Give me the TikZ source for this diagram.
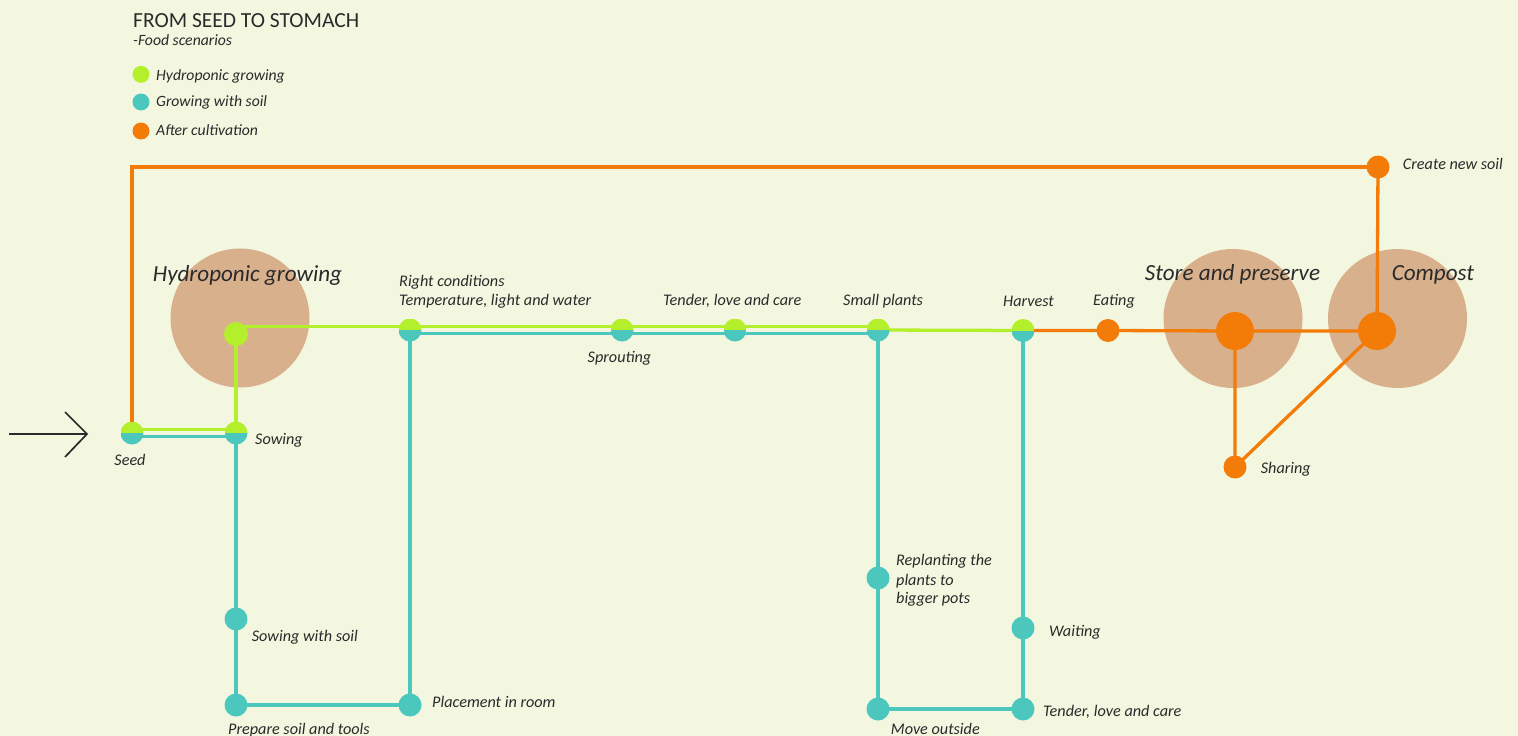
\documentclass[tikz,border=0pt]{standalone}
\usepackage{fontspec}
\setmainfont{Carlito}
\usetikzlibrary{calc}
\definecolor{cbg}{HTML}{F3F7E0}
\definecolor{cgreen}{HTML}{B3EF2A}
\definecolor{cteal}{HTML}{4BC7BE}
\definecolor{corange}{HTML}{F27C07}
\definecolor{ccirc}{HTML}{D9B08C}
\definecolor{ctext}{HTML}{2A2A2A}
\pgfdeclarelayer{bg}
\pgfdeclarelayer{lines}
\pgfsetlayers{bg,lines,main}
\begin{document}
\begin{tikzpicture}[x=1pt,y=-1pt,
  pt/.style={circle,inner sep=0pt,minimum size=23pt},
  gdot/.style={pt,fill=cgreen},
  tdot/.style={pt,fill=cteal},
  odot/.style={pt,fill=corange},
  bigo/.style={circle,inner sep=0pt,minimum size=38pt,fill=corange},
  ldot/.style={circle,inner sep=0pt,minimum size=17pt},
  split/.style={pt,path picture={
     \fill[cteal] (path picture bounding box.south west) rectangle (path picture bounding box.east);
     \fill[cgreen] (path picture bounding box.west) rectangle (path picture bounding box.north east);}},
  blob/.style={circle,inner sep=0pt,minimum size=139pt,fill=ccirc},
  lab/.style={font=\itshape\fontsize{16.2}{19}\selectfont,text=ctext,inner sep=0pt,anchor=base west},
  labc/.style={lab,anchor=base},
  leg/.style={lab,font=\itshape\fontsize{15.7}{18}\selectfont},
  big/.style={font=\itshape\fontsize{23.1}{27}\selectfont,text=ctext,inner sep=0pt,anchor=base},
  gl/.style={draw=cgreen,line width=3.3pt},
  tl/.style={draw=cteal,line width=3.3pt},
  ol/.style={draw=corange,line width=3.3pt},
]
\useasboundingbox (0,0) rectangle (1518,736);
\begin{pgfonlayer}{bg}
  \fill[cbg] (0,0) rectangle (1518,736);
  \node[blob] (chyd) at (240,318) {};
  \node[blob] (csto) at (1233,318.5) {};
  \node[blob] (ccom) at (1397.5,318.5) {};
\end{pgfonlayer}

% title and legend
\node[font=\fontsize{21.5}{25}\selectfont,text=ctext,inner sep=0pt,anchor=base west] (title) at (133,27.3) {FROM SEED TO STOMACH};
\node[leg] (sub) at (133,45.7) {-Food scenarios};
\node[ldot,fill=cgreen] (lg1) at (141,74.3) {};
\node[ldot,fill=cteal] (lg2) at (141,102) {};
\node[ldot,fill=corange] (lg3) at (141,131) {};
\node[leg] (lt1) at (156,80) {Hydroponic growing};
\node[leg] (lt2) at (156,106.7) {Growing with soil};
\node[leg] (lt3) at (156,135) {After cultivation};

% entry arrow
\coordinate (a0) at (9,434);
\coordinate (a1) at (87,434);
\coordinate (a2) at (65,412);
\coordinate (a3) at (65,457);
\draw[line width=1.7pt,ctext] (a0) -- (a1);
\draw[line width=1.7pt,ctext] (a2) -- (a1) -- (a3);

% station nodes
\node[split] (seed) at (132,433) {};
\node[split] (sow) at (236,433) {};
\node[gdot,minimum size=24pt] (hyd) at (236,334) {};
\node[split] (rc) at (410,330) {};
\node[split] (spr) at (622,330) {};
\node[split] (ten) at (735,330) {};
\node[split] (sp) at (878,330) {};
\node[split] (har) at (1023,330.5) {};
\node[odot] (eat) at (1108,330.5) {};
\node[bigo] (sto) at (1235,331) {};
\node[bigo] (com) at (1377,331) {};
\node[odot] (cns) at (1378,167) {};
\node[odot] (sha) at (1235,467) {};
\node[tdot] (sws) at (236,619) {};
\node[tdot] (pst) at (236,705) {};
\node[tdot] (pir) at (410,705) {};
\node[tdot] (rep) at (878,578) {};
\node[tdot] (mov) at (878,709) {};
\node[tdot] (tlc) at (1023,709) {};
\node[tdot] (wai) at (1023,628) {};

% connectors
\begin{pgfonlayer}{lines}
  \coordinate (gA) at ($(rc.center)+(0,-3.5)$);
  \draw[gl] ($(seed.center)+(0,-3.5)$) -- ($(sow.center)+(0,-3.5)$) -- (hyd.center |- gA) -- (gA) -- ($(sp.center)+(0,-3.5)$);
  \draw[gl] (sp.center) -- (har.center);
  \draw[tl] ($(seed.center)+(0,3.5)$) -- ($(sow.center)+(0,3.5)$);
  \draw[tl] (sow.center) -- (sws.center) -- (pst.center) -- (pir.center) -- (rc.center);
  \draw[tl] ($(rc.center)+(0,3.5)$) -- ($(sp.center)+(0,3.5)$);
  \draw[tl] (sp.center) -- (rep.center) -- (mov.center) -- (tlc.center) -- (wai.center) -- (har.center);
  \draw[ol] (seed.center) -- (seed.center |- cns.center) -- (cns.center);
  \draw[ol] (har.center) -- (eat.center) -- (sto.center) -- (com.center) -- (cns.center);
  \draw[ol] (sto.center) -- (sha.center) -- (com.center);
\end{pgfonlayer}

% labels
\node[big] (tHyd) at (247.5,281) {Hydroponic growing};
\node[big] (tSto) at (1232.5,280.7) {Store and preserve};
\node[big] (tCom) at (1433,280.7) {Compost};
\node[labc] (lSeed) at (130,465.7) {Seed};
\node[lab] (lSow) at (255,444) {Sowing};
\node[lab] (lRc1) at (399,286) {Right conditions};
\node[lab] (lRc2) at (399,305.7) {Temperature, light and water};
\node[labc] (lSpr) at (619.5,362) {Sprouting};
\node[lab] (lTen) at (663,305) {Tender, love and care};
\node[lab] (lSp) at (843,305.7) {Small plants};
\node[lab] (lHar) at (1003,306.5) {Harvest};
\node[lab] (lEat) at (1093,305.7) {Eating};
\node[lab] (lCns) at (1402.7,169.3) {Create new soil};
\node[lab] (lSha) at (1260.7,473.3) {Sharing};
\node[lab] (lSws) at (251.7,641.7) {Sowing with soil};
\node[lab] (lPir) at (432,707.3) {Placement in room};
\node[lab] (lPst) at (228,734) {Prepare soil and tools};
\node[lab] (lRep1) at (896,565) {Replanting the};
\node[lab] (lRep2) at (896,585) {plants to};
\node[lab] (lRep3) at (896,603.5) {bigger pots};
\node[lab] (lWai) at (1049,636) {Waiting};
\node[lab] (lTlc) at (1043,716) {Tender, love and care};
\node[lab] (lMov) at (890.7,734) {Move outside};
\end{tikzpicture}
\end{document}
